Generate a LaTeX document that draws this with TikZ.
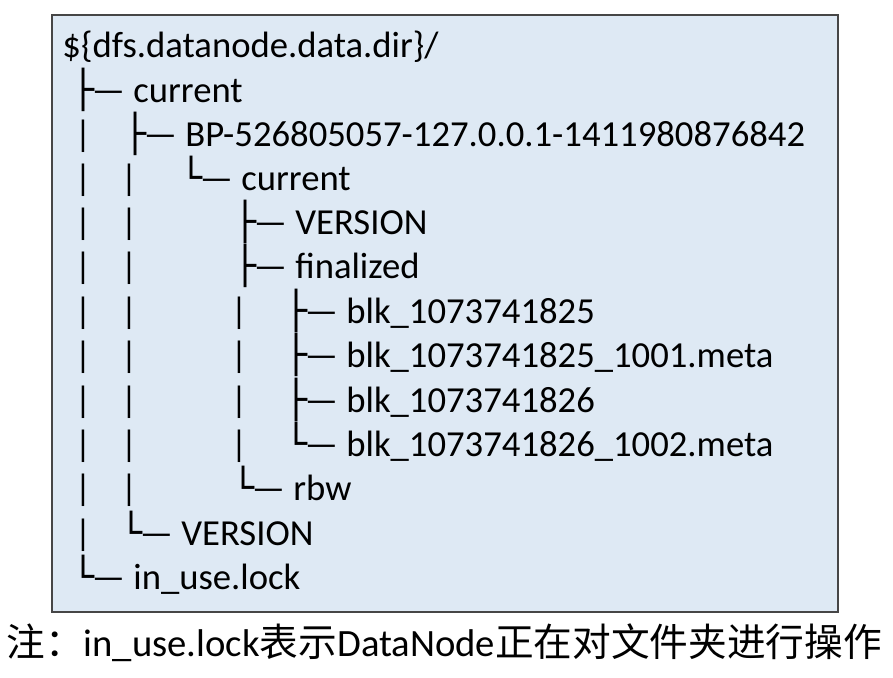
\documentclass[tikz,border=0pt]{standalone}
\usepackage{fontspec}
\setmainfont{Carlito}
\newfontfamily\boxfont{DejaVu Sans}
\newfontfamily\cjk{Noto Sans CJK SC}
\newcommand{\tee}{{\boxfont\char"251C}\kern-2pt—\ }
\newcommand{\elbow}{{\boxfont\char"2514}\kern-2pt—\ }
\definecolor{boxfill}{RGB}{222,233,244}
\definecolor{boxline}{RGB}{70,70,70}
\tikzset{every picture/.style={line width=0.75pt}}
\tikzset{entry/.style={anchor=base west,inner sep=0pt,font=\fontsize{27.5}{31}\selectfont}}

\begin{document}
\begin{tikzpicture}[x=0.75pt,y=0.75pt,yscale=-1,xscale=1]
\useasboundingbox (0,0) rectangle (893,678);

% Box
\draw [draw=boxline,fill=boxfill,line width=1.2pt] (52,15) rectangle (838,612);

% Root
\node (root) [entry] at (62,57) {\$\{dfs.datanode.data.dir\}/};
% Branches
\node (cur) [entry] at (72,102) {\tee current};
\node (bp) [entry] at (124,146) {\tee BP-526805057-127.0.0.1-1411980876842};
\node (bpcur) [entry] at (180,190) {\elbow current};
\node (ver) [entry] at (234,234) {\tee VERSION};
\node (fin) [entry] at (234,278) {\tee finalized};
\node (blka) [entry] at (285,323) {\tee blk\_1073741825};
\node (blkam) [entry] at (285,367) {\tee blk\_1073741825\_1001.meta};
\node (blkb) [entry] at (285,412) {\tee blk\_1073741826};
\node (blkbm) [entry] at (285,456) {\elbow blk\_1073741826\_1002.meta};
\node (rbw) [entry] at (232,500) {\elbow rbw};
\node (curver) [entry] at (120,545) {\elbow VERSION};
\node (lock) [entry] at (72,589) {\elbow in\_use.lock};

% Pipes
\foreach \y in {146,190,234,278,323,367,412,456,500,545}
  \node [entry] at (74,\y) {|};
\foreach \y in {190,234,278,323,367,412,456,500}
  \node [entry] at (120,\y) {|};
\foreach \y in {323,367,412,456}
  \node [entry] at (230,\y) {|};

% Caption
\node (note) [anchor=base west,inner sep=0pt,font=\fontsize{29}{33}\selectfont] at (6,656)
  {{\cjk 注：}in\_use.lock{\cjk 表示}DataNode{\cjk 正在对文件夹进行操作}};

\end{tikzpicture}
\end{document}
